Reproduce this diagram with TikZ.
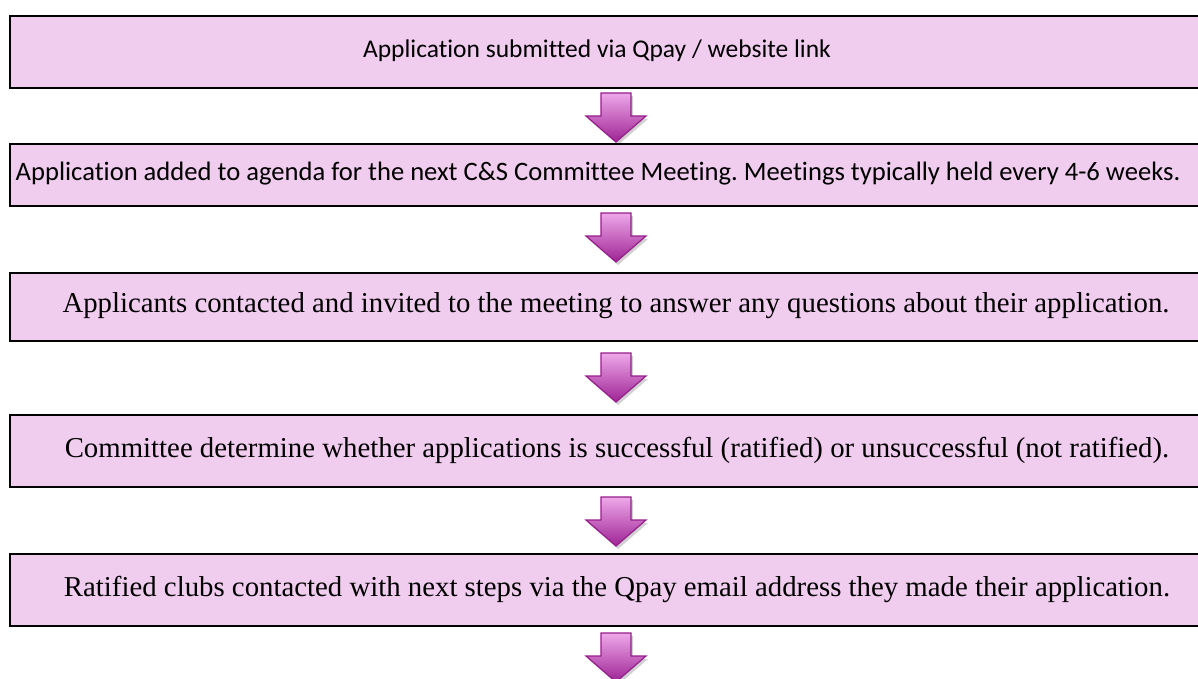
\documentclass[tikz,border=0pt]{standalone}
\usepackage{fontspec}
\setmainfont{Liberation Serif}
\newfontfamily\calib[Ligatures=NoCommon]{Carlito}
\frenchspacing
\definecolor{boxfill}{RGB}{240,204,238}
\definecolor{arrtop}{RGB}{238,168,234}
\definecolor{arrbot}{RGB}{158,36,148}
\definecolor{arrline}{RGB}{150,30,140}
\tikzset{
  flowbox/.style={draw=black, line width=1.6pt, fill=boxfill, anchor=north west, inner sep=0pt, minimum width=1230pt},
  sanstext/.style={font=\calib\fontsize{25.5}{30}\selectfont, inner sep=0pt},
  seriftext/.style={font=\fontsize{28.8}{34}\selectfont, inner sep=0pt},
}
\newcommand{\blockarr}[3]{% name, x centre, y top
  \coordinate (#1) at (#2,#3);
  \fill[black, opacity=0.18] ([xshift=2pt,yshift=-3pt]#1) ++(-15,0) -- ++(30,0) -- ++(0,-23) -- ++(15,0) -- ++(-30,-26) -- ++(-30,26) -- ++(15,0) -- cycle;
  \path[top color=arrtop, bottom color=arrbot, draw=arrline, line width=1.2pt, line join=miter]
    (#1) ++(-15,0) -- ++(30,0) -- ++(0,-23) -- ++(15,0) -- ++(-30,-26) -- ++(-30,26) -- ++(15,0) -- cycle;
}
\begin{document}
\begin{tikzpicture}[x=1pt,y=1pt]
\useasboundingbox (0,0) rectangle (1198,-679);
\clip (0,0) rectangle (1198,-679);
\node[flowbox, minimum height=72pt] (b1) at (9,-15) {};
\node[flowbox, minimum height=62pt] (b2) at (9,-143) {};
\node[flowbox, minimum height=68pt] (b3) at (9,-272) {};
\node[flowbox, minimum height=72pt] (b4) at (9,-414) {};
\node[flowbox, minimum height=72pt] (b5) at (9,-553) {};
\node[sanstext] (t1) at (597,-51) {Application submitted via Qpay / website link};
\node[sanstext, font=\calib\fontsize{26.6}{31}\selectfont] (t2) at (598,-174) {Application added to agenda for the next C\&S Committee Meeting. Meetings typically held every 4-6 weeks.};
\node[seriftext] (t3) at (616,-306) {Applicants contacted and invited to the meeting to answer any questions about their application.};
\node[seriftext] (t4) at (617,-450) {Committee determine whether applications is successful (ratified) or unsuccessful (not ratified).};
\node[seriftext] (t5) at (617,-589) {Ratified clubs contacted with next steps via the Qpay email address they made their application.};
\blockarr{a1}{616}{-93}
\blockarr{a2}{616}{-213}
\blockarr{a3}{616}{-353}
\blockarr{a4}{616}{-497}
\blockarr{a5}{616}{-633}
\end{tikzpicture}
\end{document}
